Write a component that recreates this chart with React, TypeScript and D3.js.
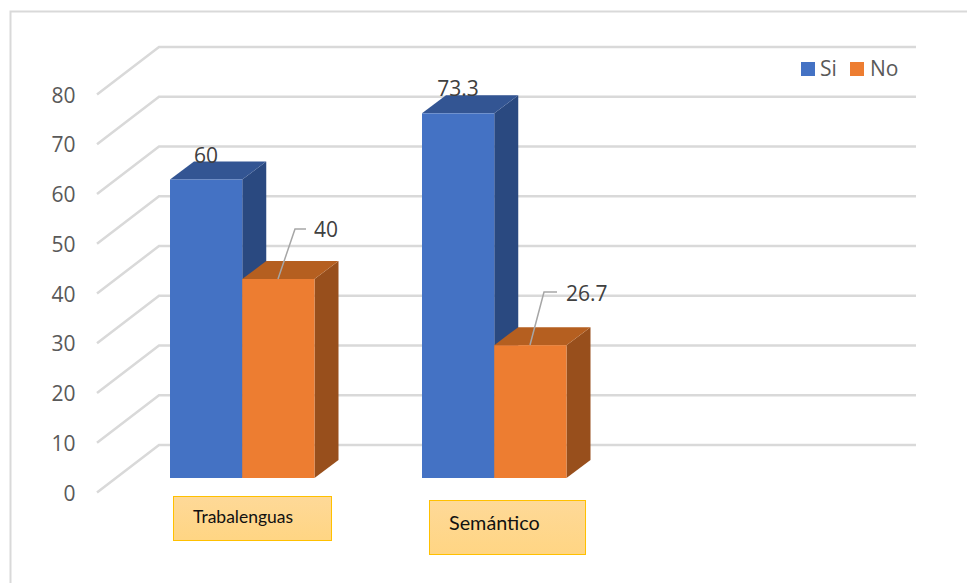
import React from "react";
import * as d3 from "d3";

const categories = ["Trabalenguas", "Semántico", ""];
const seriesNames = ["Si", "No"];
const siValues = [60, 73.3];
const noValues = [40, 26.7];
const yTicks = [0, 10, 20, 30, 40, 50, 60, 70, 80];

const FONT = "'Open Sans', sans-serif";
const colors: Record<string, { front: string; top: string; side: string }> = {
  Si: { front: "#4472c4", top: "#335593", side: "#2a4980" },
  No: { front: "#ed7d31", top: "#b55f20", side: "#984f1c" },
};

const yBack = d3.scaleLinear().domain([0, 80]).range([445, 47]);
const yFront = d3.scaleLinear().domain([0, 80]).range([492.5, 94.5]);
const yBar = d3.scaleLinear().domain([0, 80]).range([478, 80]);
const xBand = d3.scaleBand<string>().domain(categories).range([116.5, 872.5]);
const xSeries = d3.scaleBand<string>().domain(seriesNames).range([0, 144.5]);
const depthX = 24;
const depthY = 18;

const boxes = [
  { x: 173.5, y: 496.5, w: 158, h: 44, tx: 193, ty: 523, size: 17.5 },
  { x: 429.5, y: 500.5, w: 156, h: 54, tx: 449, ty: 530, size: 19.8 },
];

const leaders = [
  { px: 278, py: 279, mx: 295, my: 229, ex: 306, lx: 314, ly: 237 },
  { px: 530, py: 345, mx: 544, my: 292, ex: 557, lx: 566, ly: 301 },
];

function Bar({ x, w, value, name }: { x: number; w: number; value: number; name: string }) {
  const y0 = yBar(0);
  const y1 = yBar(value);
  const c = colors[name];
  const pts = (a: number[][]) => a.map((p) => p.join(",")).join(" ");
  return (
    <g>
      <polygon fill={c.side} points={pts([[x + w, y1], [x + w + depthX, y1 - depthY], [x + w + depthX, y0 - depthY], [x + w, y0]])} />
      <polygon fill={c.top} points={pts([[x, y1], [x + depthX, y1 - depthY], [x + w + depthX, y1 - depthY], [x + w, y1]])} />
      <rect x={x} y={y1} width={w} height={y0 - y1} fill={c.front} />
    </g>
  );
}

export default function App() {
  return (
    <svg
      width={967}
      height={583}
      style={{ position: "absolute", left: 0, top: 0, background: "#fff" }}
      fontFamily={FONT}
    >
      <defs>
        <linearGradient id="boxFill" x1="0" y1="0" x2="0" y2="1">
          <stop offset="0" stopColor="#fed998" />
          <stop offset="1" stopColor="#ffd583" />
        </linearGradient>
      </defs>
      <path d="M10.5,583V11.5H967" fill="none" stroke="#d9d9d9" strokeWidth={2} />

      {yTicks.map((t) => (
        <g key={t}>
          <polyline
            points={`97,${yFront(t)} 159,${yBack(t)} 916,${yBack(t)}`}
            fill="none"
            stroke="#d9d9d9"
            strokeWidth={2.5}
          />
          <text x={75.5} y={yFront(t) + 8} textAnchor="end" fontSize={21} fill="#595959">
            {t}
          </text>
        </g>
      ))}

      {categories.slice(0, 2).map((cat, i) => {
        const x0 = xBand(cat)! + xBand.bandwidth() / 2 - 72.5;
        return (
          <g key={cat}>
            <Bar x={x0 + xSeries("Si")!} w={xSeries.bandwidth()} value={siValues[i]} name="Si" />
            <Bar x={x0 + xSeries("No")!} w={xSeries.bandwidth()} value={noValues[i]} name="No" />
            <text x={x0 + 36} y={yBar(siValues[i]) - 17} textAnchor="middle" fontSize={21} fill="#404040">
              {siValues[i]}
            </text>
            <polyline
              points={`${leaders[i].px},${leaders[i].py} ${leaders[i].mx},${leaders[i].my} ${leaders[i].ex},${leaders[i].my}`}
              fill="none"
              stroke="#a6a6a6"
              strokeWidth={1.5}
            />
            <text x={leaders[i].lx} y={leaders[i].ly} fontSize={21} fill="#404040">
              {noValues[i]}
            </text>
            <rect
              x={boxes[i].x}
              y={boxes[i].y}
              width={boxes[i].w}
              height={boxes[i].h}
              fill="url(#boxFill)"
              stroke="#ffc000"
              strokeWidth={1}
            />
            <text x={boxes[i].tx} y={boxes[i].ty} fontSize={boxes[i].size} fontFamily="Lato, sans-serif" fill="#111">
              {cat}
            </text>
          </g>
        );
      })}

      <g>
        <rect x={801} y={62} width={14} height={14} fill={colors.Si.front} />
        <text x={820} y={76} fontSize={21} fill="#595959">{seriesNames[0]}</text>
        <rect x={850} y={62} width={14} height={14} fill={colors.No.front} />
        <text x={870} y={76} fontSize={21} fill="#595959">{seriesNames[1]}</text>
      </g>
    </svg>
  );
}
